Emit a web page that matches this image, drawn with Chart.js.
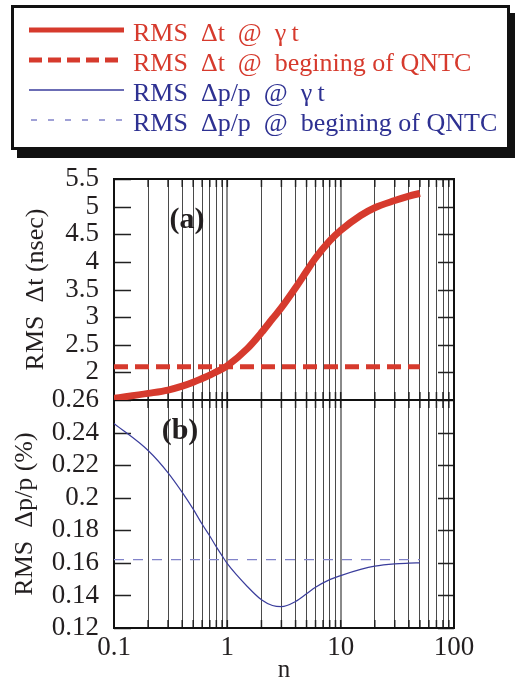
<!DOCTYPE html>
<html lang="en">
<head>
<meta charset="UTF-8">
<title>RMS dt and dp/p versus n</title>
<script src="https://cdn.jsdelivr.net/npm/chart.js@4.4.1/dist/chart.umd.min.js"></script>
<style>
    html, body {
        margin: 0;
        padding: 0;
        background: #fff;
    }

    body {
        width: 515px;
        height: 685px;
        position: relative;
        overflow: hidden;
        font-family: "Liberation Serif", "DejaVu Serif", serif;
    }

    #chart {
        position: absolute;
        left: 0;
        top: 0;
    }

    #legend {
        position: absolute;
        left: 11px;
        top: 5px;
        width: 493px;
        height: 139px;
        border: 3px solid #111;
        box-shadow: 6px 8px 0 #111;
        background: #fff;
    }

    #legend ul {
        list-style: none;
        margin: 0;
        padding: 0;
        position: absolute;
        left: 15px;
        top: 10px;
    }

    #legend li {
        height: 30px;
        display: flex;
        align-items: center;
        font-size: 26px;
        white-space: nowrap;
    }

    #legend svg {
        width: 95px;
        height: 10px;
        margin-right: 9px;
        position: relative;
        top: -3px;
    }
</style>
</head>
<body>
<canvas id="chart" width="515" height="685"></canvas>

<div id="legend">
    <ul>
        <li style="color:#d63a2d">
            <svg viewBox="0 0 95 10"><line x1="0" y1="5" x2="95" y2="5" stroke="#d63a2d" stroke-width="5"/></svg>
            RMS&nbsp;&nbsp;Δt&nbsp;&nbsp;@&nbsp;&nbsp;γ&thinsp;t
        </li>
        <li style="color:#d63a2d">
            <svg viewBox="0 0 95 10"><line x1="0" y1="5" x2="95" y2="5" stroke="#d63a2d" stroke-width="5" stroke-dasharray="13 6"/></svg>
            RMS&nbsp;&nbsp;Δt&nbsp;&nbsp;@&nbsp;&nbsp;begining of QNTC
        </li>
        <li style="color:#2e3192">
            <svg viewBox="0 0 95 10"><line x1="0" y1="5" x2="95" y2="5" stroke="#3a3d9c" stroke-width="1.3"/></svg>
            RMS&nbsp;&nbsp;Δp/p&nbsp;&nbsp;@&nbsp;&nbsp;γ&thinsp;t
        </li>
        <li style="color:#2e3192">
            <svg viewBox="0 0 95 10"><line x1="2" y1="5" x2="95" y2="5" stroke="#8183c9" stroke-width="1.3" stroke-dasharray="6 11"/></svg>
            RMS&nbsp;&nbsp;Δp/p&nbsp;&nbsp;@&nbsp;&nbsp;begining of QNTC
        </li>
    </ul>
</div>

<script>
    // n (log axis)
    const nValues = [0.1, 0.2, 0.3, 0.4, 0.5, 0.6, 0.7, 0.8, 0.9, 1, 1.5, 2, 2.5, 3, 4, 5, 6, 8, 10, 15, 20, 30, 40, 50];
    // panel (a): RMS dt (nsec) at gamma t
    const dtGammaT = [1.53, 1.62, 1.68, 1.75, 1.82, 1.89, 1.95, 2.01, 2.06, 2.12, 2.43, 2.72, 2.97, 3.17, 3.53, 3.83, 4.07, 4.38, 4.57, 4.84, 4.98, 5.11, 5.19, 5.24];
    // panel (b): RMS dp/p (%) at gamma t
    const dpGammaT = [0.2456, 0.229, 0.2153, 0.2033, 0.193, 0.1837, 0.1765, 0.1698, 0.1643, 0.1595, 0.1455, 0.1373, 0.1338, 0.1331, 0.1363, 0.141, 0.145, 0.1497, 0.1522, 0.156, 0.158, 0.1594, 0.1598, 0.160];
    // values at beginning of QNTC (constant over the n range)
    const qntcRange = [0.1, 50];
    const dtQntc = [2.10, 2.10];
    const dpQntc = [0.162, 0.162];

    const xTickValues = [0.1, 0.2, 0.3, 0.4, 0.5, 0.6, 0.7, 0.8, 0.9,
        1, 2, 3, 4, 5, 6, 7, 8, 9,
        10, 20, 30, 40, 50, 60, 70, 80, 90, 100];
    const xTickLabels = { 0.1: '0.1', 1: '1', 10: '10', 100: '100' };
    const dtTicks = [2, 2.5, 3, 3.5, 4, 4.5, 5, 5.5];
    const dpTicks = [0.12, 0.14, 0.16, 0.18, 0.2, 0.22, 0.24, 0.26];

    const INK = '#231f20';
    const pts = (xs, ys) => xs.map((x, i) => ({ x: x, y: ys[i] }));
    const fmt = v => String(+v.toFixed(3));
    const isDecade = v => Math.abs(Math.log10(v) - Math.round(Math.log10(v))) < 1e-6;

    Chart.defaults.font.family = '"Liberation Serif", "DejaVu Serif", serif';
    Chart.defaults.color = INK;

    // frame, inside ticks and panel letters
    const panelFrame = {
        id: 'panelFrame',
        beforeDatasetsDraw(chart) {
            const { ctx, chartArea: a, scales } = chart;
            const mid = scales.yB.top;
            ctx.save();
            ctx.strokeStyle = '#222';
            ctx.lineWidth = 1.5;
            ctx.beginPath();
            [scales.yT, scales.yB].forEach(s => {
                s.ticks.forEach(t => {
                    const y = Math.round(s.getPixelForValue(t.value)) + 0.5;
                    ctx.moveTo(a.left, y); ctx.lineTo(a.left + 17, y);
                    ctx.moveTo(a.right - 16, y); ctx.lineTo(a.right, y);
                });
            });
            scales.x.ticks.forEach(t => {
                const x = scales.x.getPixelForValue(t.value);
                [[a.top, 1], [mid, -1], [mid, 1], [a.bottom, -1]].forEach(([y0, d]) => {
                    ctx.moveTo(x, y0); ctx.lineTo(x, y0 + 8 * d);
                });
            });
            ctx.stroke();

            ctx.lineWidth = 2;
            ctx.strokeStyle = '#111';
            ctx.strokeRect(a.left, a.top, a.right - a.left, a.bottom - a.top);
            ctx.beginPath();
            ctx.moveTo(a.left, mid); ctx.lineTo(a.right, mid);
            ctx.stroke();

            ctx.fillStyle = INK;
            ctx.font = 'bold 30px "Liberation Serif"';
            ctx.textAlign = 'center';
            ctx.textBaseline = 'middle';
            ctx.fillText('(a)', a.left + 73, scales.yT.top + 41);
            ctx.fillText('(b)', a.left + 66, scales.yB.top + 31);
            ctx.restore();
        }
    };

    window.onload = function () {
        const ctx = document.getElementById('chart').getContext('2d');
        new Chart(ctx, {
            type: 'line',
            data: {
                datasets: [{
                    label: 'RMS Δt @ γ t',
                    data: pts(nValues, dtGammaT),
                    yAxisID: 'yT',
                    borderColor: '#d63a2d',
                    borderWidth: 7,
                    cubicInterpolationMode: 'monotone'
                }, {
                    label: 'RMS Δt @ begining of QNTC',
                    data: pts(qntcRange, dtQntc),
                    yAxisID: 'yT',
                    borderColor: '#d63a2d',
                    borderWidth: 5,
                    borderDash: [14, 7]
                }, {
                    label: 'RMS Δp/p @ γ t',
                    data: pts(nValues, dpGammaT),
                    yAxisID: 'yB',
                    borderColor: '#3a3d9c',
                    borderWidth: 1.2,
                    cubicInterpolationMode: 'monotone'
                }, {
                    label: 'RMS Δp/p @ begining of QNTC',
                    data: pts(qntcRange, dpQntc),
                    yAxisID: 'yB',
                    borderColor: '#8183c9',
                    borderWidth: 1.2,
                    borderDash: [10, 9]
                }]
            },
            options: {
                responsive: false,
                animation: false,
                devicePixelRatio: 1,
                layout: { padding: { top: 179, right: 61, left: 0, bottom: 0 } },
                elements: { point: { radius: 0 }, line: { fill: false } },
                plugins: { legend: { display: false }, tooltip: { enabled: false } },
                scales: {
                    x: {
                        type: 'logarithmic',
                        min: 0.1,
                        max: 100,
                        afterBuildTicks: s => { s.ticks = xTickValues.map(v => ({ value: v })); },
                        afterFit: s => { s.height = 57; },
                        border: { display: false },
                        grid: {
                            drawTicks: false,
                            color: c => (c.tick && isDecade(c.tick.value)) ? '#8a8a8a' : '#4a4a4a',
                            lineWidth: c => (c.tick && isDecade(c.tick.value)) ? 2 : 1
                        },
                        ticks: {
                            autoSkip: false,
                            maxRotation: 0,
                            padding: 4,
                            font: { size: 27 },
                            callback: v => xTickLabels[v] || ''
                        },
                        title: { display: true, text: 'n', font: { size: 25 }, padding: 0 }
                    },
                    yB: {
                        type: 'linear',
                        position: 'left',
                        stack: 'panels',
                        stackWeight: 228,
                        min: 0.12,
                        max: 0.26,
                        afterBuildTicks: s => { s.ticks = dpTicks.map(v => ({ value: v })); },
                        afterFit: s => { s.width = 114; },
                        border: { display: false },
                        grid: { display: false },
                        ticks: { autoSkip: false, padding: 7, font: { size: 27 }, callback: v => fmt(v) },
                        title: { display: true, text: 'RMS  Δp/p (%)', font: { size: 26 }, padding: { top: 10 } }
                    },
                    yT: {
                        type: 'linear',
                        position: 'left',
                        stack: 'panels',
                        stackWeight: 221,
                        min: 1.5,
                        max: 5.5,
                        afterBuildTicks: s => { s.ticks = dtTicks.map(v => ({ value: v })); },
                        afterFit: s => { s.width = 114; },
                        border: { display: false },
                        grid: { display: false },
                        ticks: { autoSkip: false, padding: 7, font: { size: 27 }, callback: v => fmt(v) },
                        title: { display: true, text: 'RMS  Δt (nsec)', font: { size: 26 }, padding: { top: 21 } }
                    }
                }
            },
            plugins: [panelFrame]
        });
    };
</script>
</body>
</html>
